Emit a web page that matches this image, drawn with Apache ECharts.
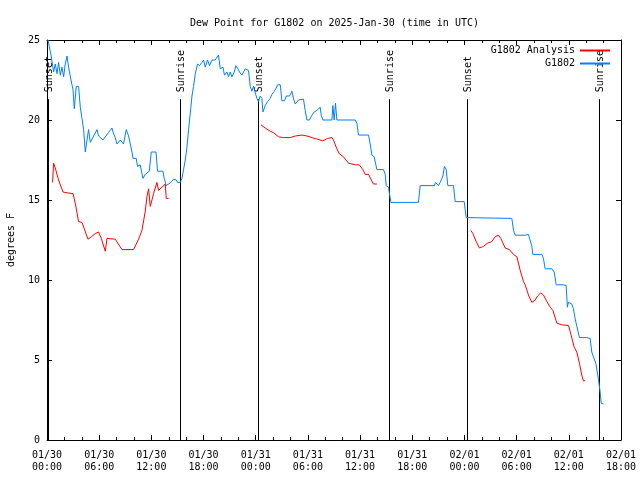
<!DOCTYPE html>
<html>
<head>
<meta charset="utf-8">
<script src="https://cdn.jsdelivr.net/npm/echarts@6/dist/echarts.min.js"></script>
<style>
html,body{margin:0;padding:0;background:#fff;}
#c{width:640px;height:480px;}
</style>
</head>
<body>
<div id="c"></div>
<script>
// hours since 2025-01-30 00:00 UTC
var xTickLabels = ['01/30\n00:00','01/30\n06:00','01/30\n12:00','01/30\n18:00','01/31\n00:00','01/31\n06:00','01/31\n12:00','01/31\n18:00','02/01\n00:00','02/01\n06:00','02/01\n12:00','02/01\n18:00'];

var sunTimes = [0.17, 15.32, 24.25, 39.38, 48.33, 63.45];
var sunLabels = ['Sunset','Sunrise','Sunset','Sunrise','Sunset','Sunrise'];

var obsHours = [0.11,0.46,0.76,0.95,1.15,1.33,1.53,1.72,1.91,2.10,2.30,2.48,2.76,2.99,3.14,3.37,3.63,3.83,4.02,4.21,4.40,4.60,4.78,4.98,5.36,5.75,5.93,6.13,6.44,6.62,7.05,7.47,7.62,7.85,8.05,8.43,8.80,9.11,9.38,9.77,9.89,10.26,10.41,10.72,11.03,11.30,11.76,11.99,12.53,12.71,13.33,13.48,13.71,13.98,14.25,14.55,14.86,15.01,15.32,15.52,15.70,15.90,16.09,16.28,16.47,16.67,16.85,17.05,17.31,17.54,17.82,18.00,18.20,18.46,18.69,18.97,19.34,19.54,19.72,19.92,20.23,20.41,20.69,20.87,21.07,21.26,21.53,21.72,21.95,22.14,22.41,22.60,22.79,22.99,23.17,23.37,23.56,23.75,23.94,24.14,24.32,24.52,24.71,24.83,25.09,25.36,25.67,25.86,26.13,26.36,26.51,26.82,27.01,27.31,27.51,27.89,28.16,28.34,28.54,28.74,28.92,29.49,29.69,29.89,30.18,30.46,30.72,31.03,31.22,31.41,31.53,31.72,32.76,32.87,33.02,33.17,33.33,33.52,35.44,35.63,35.82,36.97,37.16,37.36,37.62,37.93,38.69,38.89,39.00,39.26,39.38,39.54,42.71,42.91,44.55,44.67,45.01,45.21,45.52,45.70,45.90,46.09,46.74,46.93,47.97,48.20,48.35,53.45,53.64,53.84,54.99,55.17,55.36,55.56,55.75,55.86,56.90,57.08,57.28,58.05,58.32,58.55,59.38,59.69,59.84,59.95,60.34,60.53,60.72,60.92,61.22,62.07,62.45,62.64,62.83,63.10,63.33,63.48,63.60,63.72,63.99];
var obsValues = [25.0,24.06,23.0,23.5,22.9,23.6,22.8,23.3,22.7,23.5,24.0,23.3,22.5,21.9,20.7,22.1,22.1,20.8,20.1,19.4,18.0,18.75,19.4,18.6,19.0,19.4,19.0,19.0,18.75,18.75,19.2,19.5,19.2,18.9,18.5,18.75,18.5,19.4,19.0,18.0,17.6,17.6,17.1,17.2,16.35,16.6,16.8,18.0,18.0,16.8,16.8,16.35,15.9,16.0,16.1,16.3,16.25,16.1,16.1,16.35,16.9,17.5,18.3,19.4,20.4,21.5,22.1,22.9,23.5,23.4,23.6,23.75,23.3,23.75,23.4,23.75,23.75,23.8,24.06,23.2,23.3,22.8,23.0,22.7,23.0,22.7,23.0,23.4,23.2,23.0,22.8,23.0,23.2,23.3,23.1,22.1,21.8,22.1,21.7,21.35,21.15,21.5,21.35,20.5,20.9,21.15,21.35,21.6,21.8,22.0,22.2,22.2,21.2,21.2,21.5,21.5,21.8,21.35,21.0,21.0,21.25,21.3,20.6,20.0,20.0,20.3,20.5,20.6,20.6,20.8,20.3,20.0,20.0,20.9,20.0,21.05,20.0,20.0,20.0,19.8,19.06,19.06,18.5,17.8,17.7,16.9,16.9,16.6,15.9,15.8,15.7,14.85,14.85,15.9,15.9,16.1,15.9,16.1,16.5,17.1,16.9,15.9,15.9,14.9,14.9,13.9,13.85,13.85,13.1,12.8,12.8,12.7,12.85,12.75,12.1,11.6,11.6,11.35,10.7,10.7,10.5,9.7,9.7,9.65,8.3,8.6,8.5,8.2,7.6,7.1,6.4,6.4,6.35,5.5,5.2,4.8,4.06,3.5,3.0,2.3,2.25];

var anaHours = [0.64,0.76,0.95,1.33,1.84,2.30,2.99,3.25,3.45,3.63,4.02,4.29,4.71,5.09,5.55,5.93,6.24,6.70,6.90,7.85,8.62,9.95,10.53,10.92,11.30,11.49,11.68,11.87,12.07,12.25,12.64,12.83,13.22,13.60,13.71,13.98,
  19.0,
  24.60,25.09,25.67,26.06,26.62,27.20,27.97,28.54,29.31,29.89,30.46,31.10,31.72,32.25,32.76,32.94,33.33,33.60,34.09,34.67,35.44,35.90,36.32,36.59,36.97,37.24,37.54,37.93,
  43.0,
  48.74,48.97,49.35,49.72,50.18,50.64,51.15,51.53,51.91,52.18,52.68,53.17,53.64,54.03,54.41,54.79,54.98,55.36,55.75,56.13,56.40,56.79,57.09,57.48,57.86,58.17,58.63,59.20,59.97,60.24,60.62,60.92,61.22,61.49,61.68,61.88];
var anaValues = [16.1,17.3,17.0,16.25,15.5,15.45,15.4,14.8,14.2,13.65,13.6,13.2,12.55,12.7,12.9,13.0,12.6,11.8,12.6,12.55,11.9,11.9,12.55,13.1,14.3,15.2,15.7,14.6,15.0,15.4,16.1,15.6,15.8,16.0,15.1,15.1,
  null,
  19.7,19.5,19.3,19.2,18.95,18.9,18.9,19.0,19.06,19.0,18.9,18.8,18.7,18.85,18.9,18.75,18.2,17.9,17.7,17.3,17.2,17.2,16.9,16.6,16.6,16.3,16.0,16.0,
  null,
  13.1,12.9,12.4,12.0,12.1,12.3,12.4,12.7,12.8,12.6,12.0,11.9,11.6,11.45,10.6,9.9,9.7,9.06,8.6,8.75,9.0,9.2,9.06,8.65,8.3,8.1,7.3,7.2,7.15,6.6,5.8,5.5,4.8,4.06,3.7,3.7];

var FONT = 'DejaVu Sans Mono';
var SUN_LINE_TOP = 21.3;

function zip(xs, ys){ return xs.map(function(x,i){ return [x, ys[i]]; }); }

var chart = echarts.init(document.getElementById('c'), null, {renderer:'canvas'});

var axisCommon = {
  type:'value', min:0, max:66, interval:6,
  axisLine:{show:true, onZero:false, lineStyle:{color:'#000', width:1}},
  axisTick:{show:true, inside:true, length:5, lineStyle:{color:'#000'}},
  minorTick:{show:true, splitNumber:3, length:3, lineStyle:{color:'#000'}},
  splitLine:{show:false}
};

chart.setOption({
  animation:false,
  backgroundColor:'#fff',
  title:{
    text:'Dew Point for G1802 on 2025-Jan-30 (time in UTC)',
    left:185, top:13,
    textStyle:{fontFamily:FONT, fontSize:10, fontWeight:'normal', color:'#000'}
  },
  legend:{
    data:['G1802 Analysis','G1802'],
    orient:'vertical', right:25, top:40, align:'right',
    icon:'rect', itemWidth:30, itemHeight:2, itemGap:2,
    textStyle:{fontFamily:FONT, fontSize:10, color:'#000', lineHeight:11}
  },
  grid:{left:47, right:19, top:40, bottom:40, containLabel:false, outerBoundsMode:'none'},
  xAxis:[
    Object.assign({}, axisCommon, {
      position:'bottom',
      axisLabel:{fontFamily:FONT, fontSize:10, color:'#000', margin:9, lineHeight:12,
        formatter:function(v){ return xTickLabels[Math.round(v/6)]; }}
    }),
    Object.assign({}, axisCommon, {position:'top', axisLabel:{show:false}})
  ],
  yAxis:[
    {type:'value', min:0, max:25, interval:5, position:'left',
     name:'degrees F', nameLocation:'middle', nameGap:31, nameRotate:90,
     nameTextStyle:{fontFamily:FONT, fontSize:10, color:'#000'},
     axisLine:{show:true, onZero:false, lineStyle:{color:'#000'}},
     axisTick:{show:true, inside:true, length:5, lineStyle:{color:'#000'}},
     axisLabel:{fontFamily:FONT, fontSize:10, color:'#000', margin:7},
     splitLine:{show:false}},
    {type:'value', min:0, max:25, interval:5, position:'right',
     axisLine:{show:true, onZero:false, lineStyle:{color:'#000'}},
     axisTick:{show:true, inside:true, length:5, lineStyle:{color:'#000'}},
     axisLabel:{show:false}, splitLine:{show:false}}
  ],
  series:[
    {
      type:'custom', name:'sun', xAxisIndex:0, yAxisIndex:0,
      data: sunTimes.map(function(t,i){ return [t, i]; }),
      encode:{x:0},
      renderItem:function(params, api){
        var t = api.value(0), i = api.value(1);
        var p0 = api.coord([t, 0]);
        var p1 = api.coord([t, SUN_LINE_TOP]);
        return {type:'group', children:[
          {type:'line', shape:{x1:Math.round(p0[0])+0.5, y1:p0[1], x2:Math.round(p1[0])+0.5, y2:p1[1]},
           style:{stroke:'#000', lineWidth:1}},
          {type:'text', x:Math.round(p1[0])+1, y:p1[1]-7, rotation:Math.PI/2,
           style:{text:sunLabels[i], fontFamily:FONT, fontSize:10, fill:'#000',
                  textAlign:'left', textVerticalAlign:'middle'}}
        ]};
      },
      z:1
    },
    {
      type:'line', name:'G1802 Analysis', data:zip(anaHours, anaValues),
      symbol:'none', connectNulls:false, color:'#ff0000',
      lineStyle:{color:'#ff0000', width:1}, z:3
    },
    {
      type:'line', name:'G1802', data:zip(obsHours, obsValues),
      symbol:'none', color:'#0080ff',
      lineStyle:{color:'#0080ff', width:1}, z:2
    }
  ]
});
</script>
</body>
</html>
